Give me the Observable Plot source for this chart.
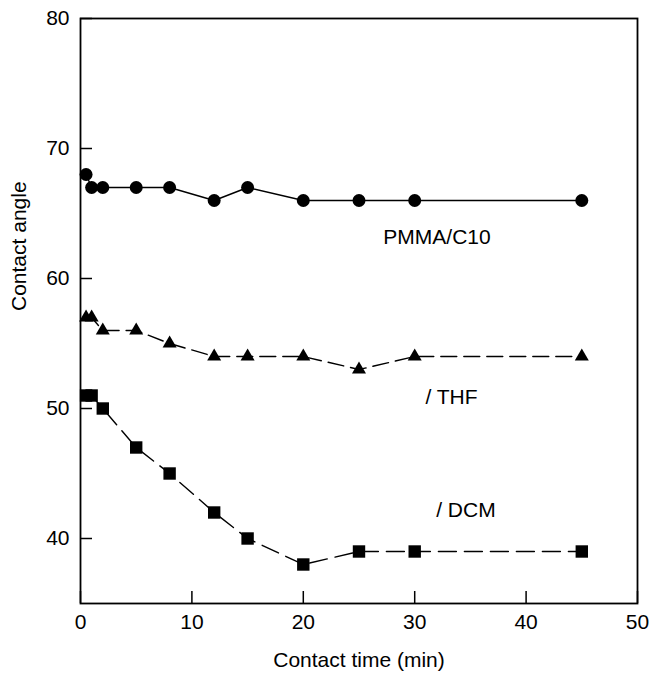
<!DOCTYPE html>
<html><head><meta charset="utf-8">
<script src="https://cdn.jsdelivr.net/npm/d3@7"></script>
<script src="https://cdn.jsdelivr.net/npm/@observablehq/plot@0.6"></script>
<style>
body{margin:0;background:#fff}
#chart svg{font-family:"Liberation Sans",Arial,Helvetica,sans-serif}
</style>
</head><body><div id="chart"></div>
<script>
// Contact time (min)
const time = [0.5, 1, 2, 5, 8, 12, 15, 20, 25, 30, 45];
// Contact angle series
const pmma = [68, 67, 67, 67, 67, 66, 67, 66, 66, 66, 66];
const thf  = [57, 57, 56, 56, 55, 54, 54, 54, 53, 54, 54];
const dcm  = [51, 51, 50, 47, 45, 42, 40, 38, 39, 39, 39];
// Tick labels
const xTicks = [0, 10, 20, 30, 40, 50];
const yTicks = [40, 50, 60, 70, 80];
// Axis titles
const xTitle = ["Contact time (min)"];
const yTitle = ["Contact angle"];
// Series annotations
const labelText = ["PMMA/C10", "/ THF", "/ DCM"];
const labelX = [32, 33.3, 34.6];
const labelY = [63.2, 50.85, 42.2];

const rows = (vals) => time.map((t, i) => ({t, v: vals[i]}));
const pm = rows(pmma), th = rows(thf), dc = rows(dcm);
const labels = labelText.map((s, i) => ({s, x: labelX[i], y: labelY[i]}));

const chart = Plot.plot({
  width: 653, height: 679,
  marginLeft: 80, marginRight: 16, marginTop: 18, marginBottom: 76,
  style: {fontSize: "21px", color: "#000", background: "#fff", fontFamily: "'Liberation Sans', Arial, sans-serif"},
  x: {domain: [0, 50], label: null},
  y: {domain: [35, 80], label: null},
  marks: [
    Plot.frame({stroke: "#000", strokeWidth: 1.8}),
    Plot.axisX(xTicks, {anchor: "bottom", tickSize: -12, tickPadding: 23, strokeWidth: 1.5,
      label: null, tickFormat: d => d}),
    Plot.axisY(yTicks, {anchor: "left", tickSize: -12, tickPadding: 23, strokeWidth: 1.5,
      label: null, tickFormat: d => d}),
    Plot.text(xTitle, {frameAnchor: "bottom", dy: 63, fill: "#000", fontSize: 21}),
    Plot.text(yTitle, {frameAnchor: "left", rotate: -90, dx: -61, fill: "#000", fontSize: 21}),
    Plot.line(pm, {x: "t", y: "v", stroke: "#000", strokeWidth: 1.4}),
    Plot.line(th, {x: "t", y: "v", stroke: "#000", strokeWidth: 1.4, strokeDasharray: "16,7"}),
    Plot.line(dc, {x: "t", y: "v", stroke: "#000", strokeWidth: 1.4, strokeDasharray: "18,8"}),
    Plot.dot(pm, {x: "t", y: "v", fill: "#000", r: 6.5, symbol: "circle"}),
    Plot.dot(th, {x: "t", y: "v", fill: "#000", r: 5.2, symbol: "triangle"}),
    Plot.dot(dc, {x: "t", y: "v", fill: "#000", r: 7, symbol: "square"}),
    Plot.text(labels, {x: "x", y: "y", text: "s", fill: "#000", fontSize: 21})
  ]
});
document.getElementById("chart").append(chart);
</script>
</body></html>
